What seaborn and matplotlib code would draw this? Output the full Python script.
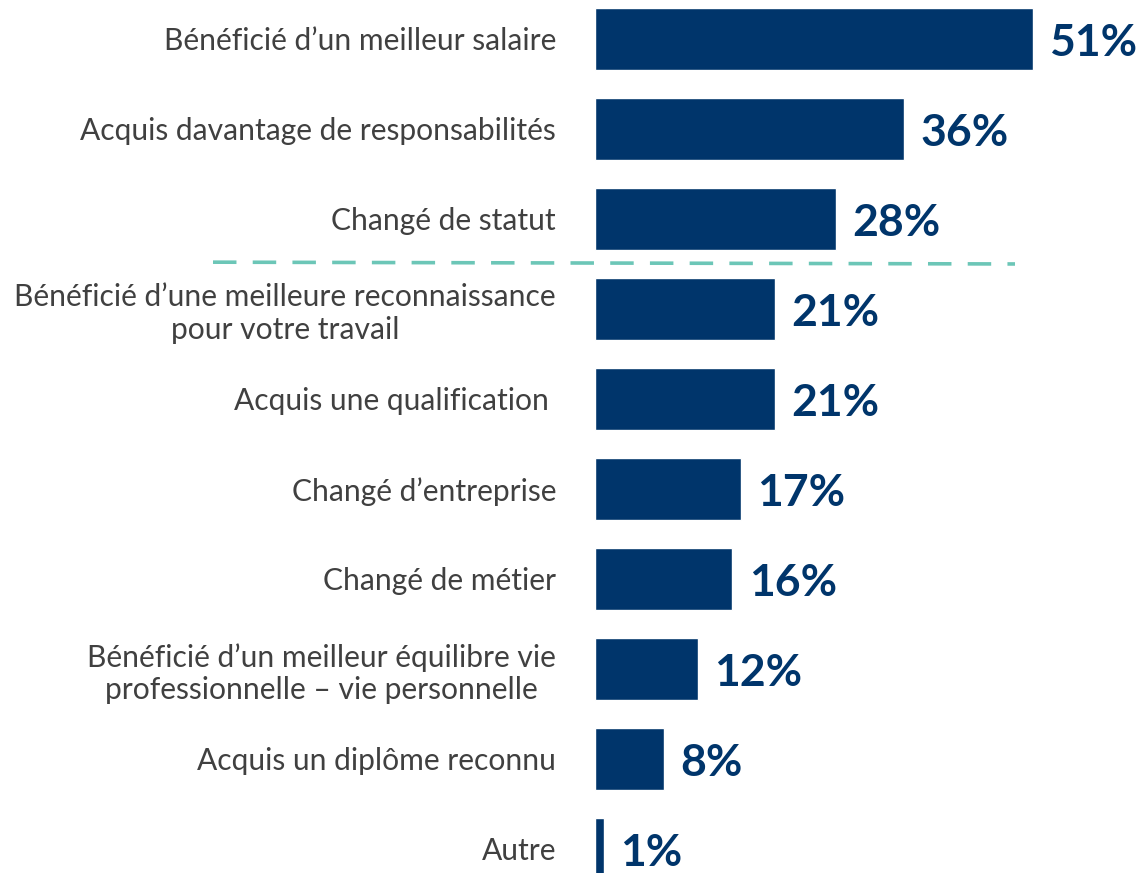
import matplotlib
matplotlib.use("Agg")
import matplotlib.pyplot as plt
import seaborn as sns
import pandas as pd

# chart data
categories = [
    "Bénéficié d’un meilleur salaire",
    "Acquis davantage de responsabilités",
    "Changé de statut",
    "Bénéficié d’une meilleure reconnaissance\npour votre travail",
    "Acquis une qualification ",
    "Changé d’entreprise",
    "Changé de métier",
    "Bénéficié d’un meilleur équilibre vie\nprofessionnelle – vie personnelle",
    "Acquis un diplôme reconnu",
    "Autre",
]
values = [51, 36, 28, 21, 21, 17, 16, 12, 8, 1]
value_labels = [f"{v}%" for v in values]

navy = "#00356B"
teal = "#6CC6B7"
label_gray = "#404040"

df = pd.DataFrame({"cat": categories, "val": values})

sns.set_theme(style="white")
plt.rcParams["font.family"] = ["Lato", "DejaVu Sans"]

fig = plt.figure(figsize=(11.41, 8.73), dpi=100)
ax = fig.add_axes([595 / 1141, 0, 1 - 595 / 1141, 1])

sns.barplot(data=df, x="val", y="cat", orient="h", color=navy,
            width=0.69, saturation=1, ax=ax)

ax.set_xlim(0, (1141 - 595) / 8.59)
ax.set_ylim(9.267, -0.433)
ax.set_xlabel("")
ax.set_ylabel("")
ax.set_xticks([])
ax.tick_params(axis="y", length=0, pad=28)
for lbl in ax.get_yticklabels():
    lbl.set_fontsize(21.6)
    lbl.set_color(label_gray)
    lbl.set_multialignment("center")
sns.despine(ax=ax, left=True, bottom=True, top=True, right=True)

for i, (v, t) in enumerate(zip(values, value_labels)):
    ax.text(v + 1.9, i + 0.04, t, va="center", ha="left", fontsize=32,
            fontweight="bold", color=navy)

# divider between the top three and the rest
x0 = (213 - 595) / 8.59
x1 = (1015 - 595) / 8.59
ax.plot([x0, x1], [2.48, 2.5], color=teal, lw=2.6, clip_on=False,
        dashes=(6.5, 4.5))

fig.savefig("out.png", dpi=100)
